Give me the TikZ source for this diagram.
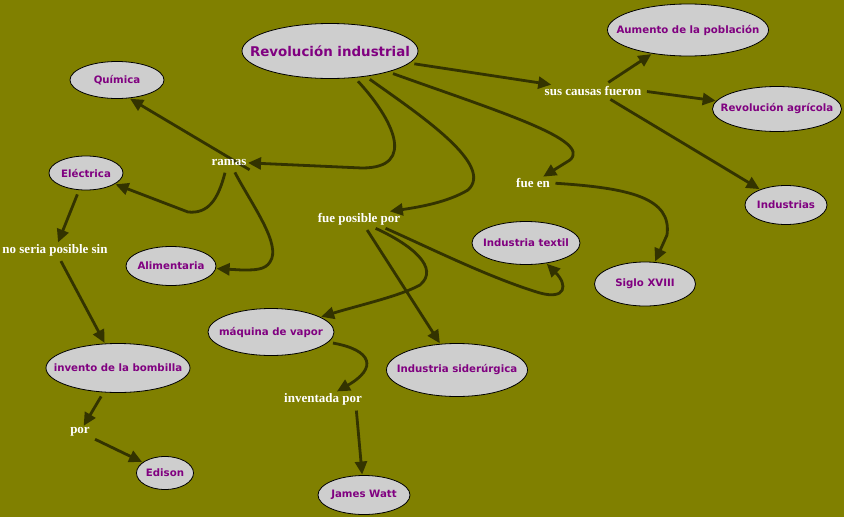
\documentclass[tikz,border=0pt]{standalone}
\usepackage{fontspec}
\usepackage{xcolor}
\usepackage{tikz}
\usetikzlibrary{arrows.meta,calc,shapes.geometric}
\newfontfamily\conceptfont{DejaVu Sans}
\newfontfamily\linkfont{Liberation Serif}
\definecolor{mapolive}{RGB}{128,128,0}
\definecolor{mapgrey}{RGB}{206,206,206}
\definecolor{mappurple}{RGB}{128,0,128}
\definecolor{mapline}{RGB}{51,51,0}
\newcommand{\conceptname}[1]{\makebox[0pt]{#1}}
\pgfdeclarelayer{paper}
\pgfdeclarelayer{links}
\pgfsetlayers{paper,links,main}

\begin{document}
\begin{tikzpicture}[x=1pt,y=-1pt,
 concept/.style={ellipse,draw=black,line width=0.8pt,fill=mapgrey,text=mappurple,inner sep=0pt,outer sep=1pt,
  font=\conceptfont\bfseries\fontsize{10.2}{12}\selectfont},
 linkword/.style={text=white,inner sep=1.5pt,font=\linkfont\bfseries\fontsize{13}{15}\selectfont},
 arrow/.style={draw=mapline,line width=2.8pt,-{Triangle[length=13pt,width=12pt]},shorten <=4pt}]
\useasboundingbox (0,0) rectangle (844,517);
\begin{pgfonlayer}{paper}
\fill[mapolive] (0,0) rectangle (844,517);
\end{pgfonlayer}
\node[concept,minimum width=176pt,minimum height=55pt,font=\conceptfont\bfseries\fontsize{13.4}{16}\selectfont] (rev) at (330,51) {\conceptname{Revolución industrial}};
\node[concept,minimum width=94pt,minimum height=37pt] (quimica) at (117,80) {\conceptname{Química}};
\node[concept,minimum width=161pt,minimum height=52pt] (aumento) at (688,30) {\conceptname{Aumento de la población}};
\node[concept,minimum width=129pt,minimum height=45pt] (agricola) at (777,109) {\conceptname{Revolución agrícola}};
\node[concept,minimum width=74pt,minimum height=34pt] (electrica) at (86,173) {\conceptname{Eléctrica}};
\node[concept,minimum width=82pt,minimum height=39pt] (industrias) at (786,205) {\conceptname{Industrias}};
\node[concept,minimum width=108pt,minimum height=43pt] (textil) at (526,243) {\conceptname{Industria textil}};
\node[concept,minimum width=90pt,minimum height=39pt] (alimentaria) at (171,266) {\conceptname{Alimentaria}};
\node[concept,minimum width=101pt,minimum height=44pt] (siglo) at (645,284) {\conceptname{Siglo XVIII}};
\node[concept,minimum width=126pt,minimum height=47pt] (maquina) at (271,332) {\conceptname{máquina de vapor}};
\node[concept,minimum width=141pt,minimum height=53pt] (siderurgica) at (457,370) {\conceptname{Industria siderúrgica}};
\node[concept,minimum width=144pt,minimum height=49pt] (bombilla) at (118,368) {\conceptname{invento de la bombilla}};
\node[concept,minimum width=57pt,minimum height=33pt] (edison) at (165,473) {\conceptname{Edison}};
\node[concept,minimum width=92pt,minimum height=39pt] (watt) at (364,495) {\conceptname{James Watt}};
\node[linkword] (ramas) at (229,162) {ramas};
\node[linkword] (causas) at (593,91) {sus causas fueron};
\node[linkword] (fueen) at (533,183) {fue en};
\node[linkword] (posible) at (359,219) {fue posible por};
\node[linkword] (noseria) at (55,250) {no seria posible sin};
\node[linkword] (inventada) at (323,399) {inventada por};
\node[linkword] (por) at (80,432) {por};
\begin{pgfonlayer}{links}
\draw[arrow] (rev) .. controls (392,118) and (418,168) .. (362,168) -- (ramas);
\draw[arrow] ($(ramas.south east)+(5,5)$) -- (quimica.-55);
\draw[arrow] ($(ramas.south)+(-3,2)$) .. controls (218,200) and (208,214) .. (188,212) -- (electrica);
\draw[arrow] ($(ramas.south)+(4,2)$) .. controls (252,205) and (282,245) .. (270,262) .. controls (265,270) and (255,270) .. (242,270) -- (alimentaria);
\draw[arrow] (rev) -- (causas);
\draw[arrow] ($(causas.north)+(12,0)$) -- (aumento);
\draw[arrow] (causas.east) -- (agricola);
\draw[arrow] ($(causas.south)+(14,0)$) -- (industrias);
\draw[arrow] (rev) .. controls (500,112) and (592,140) .. (570,160) -- (fueen);
\draw[arrow] (fueen.east) .. controls (630,188) and (672,198) .. (667,235) -- (siglo);
\draw[arrow] (rev) .. controls (420,115) and (495,165) .. (468,190) .. controls (448,202) and (420,207) .. ($(posible.north east)+(-12,0)$);
\draw[arrow] ($(posible.south)+(13,0)$) .. controls (412,245) and (440,268) .. (420,285) .. controls (400,296) and (360,305) .. (maquina);
\draw[arrow] ($(posible.south)+(6,0)$) -- (siderurgica);
\draw[arrow] ($(posible.south east)+(-20,0)$) .. controls (430,248) and (490,278) .. (540,293) .. controls (566,300) and (568,285) .. (textil);
\draw[arrow] (electrica) -- (noseria);
\draw[arrow] (noseria) -- (bombilla);
\draw[arrow] (bombilla) -- (por);
\draw[arrow] (por) -- (edison);
\draw[arrow] (maquina) .. controls (372,350) and (378,368) .. ($(inventada.north)+(14,0)$);
\draw[arrow] ($(inventada.south)+(33,0)$) -- (watt);
\end{pgfonlayer}
\end{tikzpicture}
\end{document}
